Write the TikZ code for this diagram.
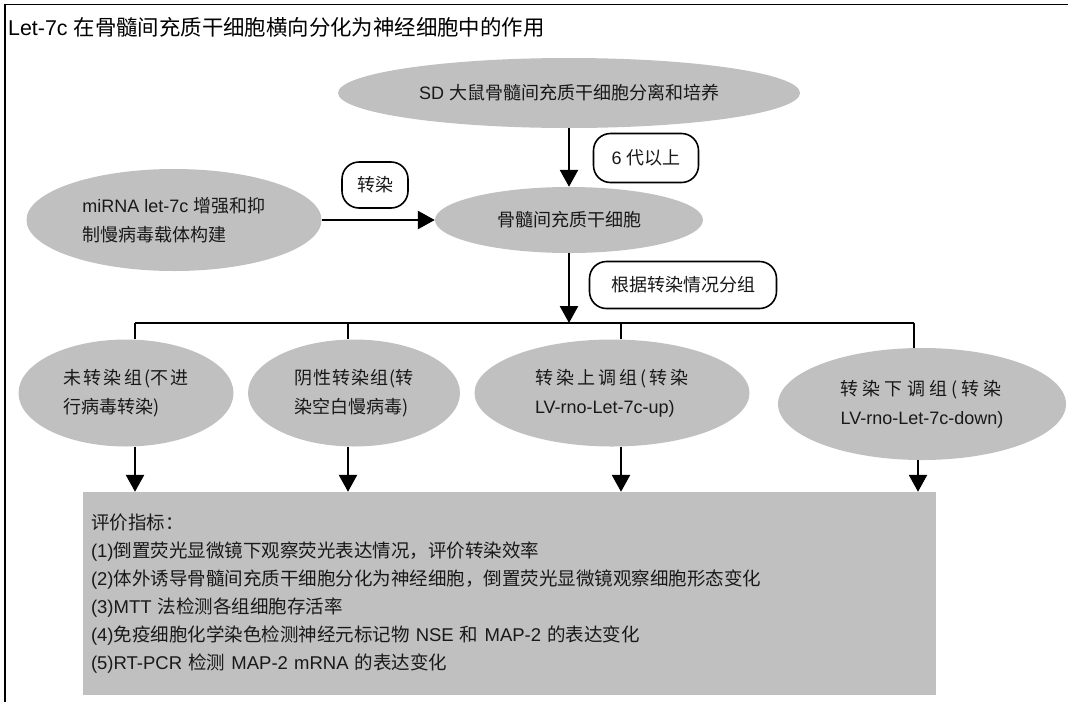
\documentclass[tikz,border=0pt]{standalone}
\usepackage{fontspec}
\setmainfont{Noto Sans CJK SC}
\newfontfamily\lat{Liberation Sans}
\usetikzlibrary{shapes.geometric,arrows.meta}
\definecolor{fillgray}{RGB}{192,192,192}
\definecolor{txt}{RGB}{25,25,25}
\begin{document}
\begin{tikzpicture}[x=1pt,y=-1pt,
  ell/.style={ellipse, fill=fillgray, inner sep=0pt, font=\fontsize{18}{29}\selectfont, text=txt, align=left},
  lbl/.style={draw, line width=1.6pt, rounded corners=17pt, fill=white, font=\fontsize{18}{22}\selectfont, text=txt, inner sep=0pt},
  arr/.style={line width=2.6pt, -{Triangle[length=17pt,width=18pt]}},
  bus/.style={line width=1.8pt},
  frame/.style={line width=1.8pt}]
\useasboundingbox (0,0) rectangle (1068,702);
% frame
\coordinate (tl) at (5,4.5);
\coordinate (tr) at (1068,4.5);
\coordinate (bl) at (5,702);
\draw[frame] (tr) -- (tl) -- (bl);
% title
\node[anchor=west, inner sep=0pt, font=\fontsize{21.4}{24}\selectfont] (title) at (8,27)
  {{\lat Let-7c }在骨髓间充质干细胞横向分化为神经细胞中的作用};
% top ellipses
\node[ell, minimum width=462pt, minimum height=70pt] (E1) at (569,93)
  {{\lat SD }大鼠骨髓间充质干细胞分离和培养};
\node[ell, minimum width=268pt, minimum height=66pt] (E2) at (569,220)
  {骨髓间充质干细胞};
\node[ell, minimum width=295pt, minimum height=102pt] (E3) at (174,220)
  {{\lat miRNA let-7c }增强和抑\\制慢病毒载体构建};
% labels
\node[lbl, minimum width=66pt, minimum height=46pt] (L1) at (375,185) {转染};
\node[lbl, minimum width=105pt, minimum height=49pt] (L2) at (646,158) {{\lat 6 }代以上};
\node[lbl, minimum width=187pt, minimum height=47pt] (L3) at (683,285) {根据转染情况分组};
% group ellipses
\node[ell, minimum width=215pt, minimum height=107pt] (G1) at (126,393)
  {\hbox to 125pt{未\hfil 转\hfil 染\hfil 组\hfil (不\hfil 进}\\行病毒转染)};
\node[ell, minimum width=212pt, minimum height=107pt] (G2) at (354,393)
  {\hbox to 120pt{阴\hfil 性\hfil 转\hfil 染\hfil 组\hfil (转}\\染空白慢病毒)};
\node[ell, minimum width=275pt, minimum height=107pt] (G3) at (612,393)
  {\hbox to 154pt{转\hfil 染\hfil 上\hfil 调\hfil 组\hfil (\hfil 转\hfil 染}\\{\lat LV-rno-Let-7c-up)}};
\node[ell, minimum width=288pt, minimum height=112pt] (G4) at (922,404)
  {\hbox to 161pt{转\hfil 染\hfil 下\hfil 调\hfil 组\hfil (\hfil 转\hfil 染}\\{\lat LV-rno-Let-7c-down)}};
% evaluation box
\node[fill=fillgray, text width=837pt, minimum height=203pt, inner xsep=8pt, inner ysep=0pt,
      align=left, text=txt, font=\fontsize{18.5}{28}\selectfont] (EV) at (509.5,593.5)
  {评价指标：\\
   {\lat (1)}倒置荧光显微镜下观察荧光表达情况，评价转染效率\\
   {\lat (2)}体外诱导骨髓间充质干细胞分化为神经细胞，倒置荧光显微镜观察细胞形态变化\\
   {\lat (3)MTT }法检测各组细胞存活率\\
   {\lat (4)}免疫细胞化学染色检测神经元标记物{\lat\ NSE }和{\lat\ MAP-2 }的表达变化\\
   {\lat (5)RT-PCR }检测{\lat\ MAP-2 mRNA }的表达变化};
% connectors
\coordinate (bm) at (569,323);
\coordinate (b1) at (135,323);
\coordinate (b2) at (348,323);
\coordinate (b3) at (621,323);
\coordinate (b4) at (914,323);
\coordinate (c4) at (918,323);
\draw[arr] (E1) -- (E2);
\draw[arr] (E3) -- (E2);
\draw[arr] (E2) -- (bm);
\draw[bus] (b1) -- (b4);
\draw[bus] (b1) -- (b1 |- G1.north);
\draw[bus] (b2) -- (b2 |- G2.north);
\draw[bus] (b3) -- (b3 |- G3.north);
\draw[bus] (b4) -- (b4 |- G4.north);
\draw[arr] (b1 |- G1.south) -- (b1 |- EV.north);
\draw[arr] (b2 |- G2.south) -- (b2 |- EV.north);
\draw[arr] (b3 |- G3.south) -- (b3 |- EV.north);
\draw[arr] (c4 |- G4.south) -- (c4 |- EV.north);
\end{tikzpicture}
\end{document}
